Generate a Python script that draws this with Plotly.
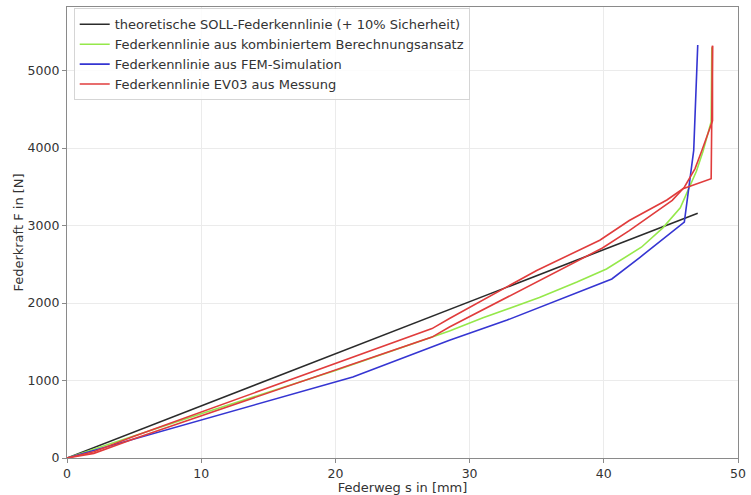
import plotly.graph_objects as go

# Black: theoretical target line
s_soll = [0, 47.0]
F_soll = [0, 3160]

# Green: combined calculation approach
s_calc = [0, 5, 10, 20, 28.5, 31.0, 35.2, 38.0, 40.2, 42.8, 44.4, 45.7, 46.9, 47.4, 48.0, 48.05]
F_calc = [0, 285, 570, 1130, 1640, 1810, 2070, 2270, 2440, 2720, 2970, 3230, 3700, 3960, 4340, 5300]

# Blue: FEM simulation
s_fem = [0, 10, 17.3, 21.3, 28.5, 32.8, 40.6, 42.7, 46.0, 46.7, 47.0]
F_fem = [0, 495, 850, 1045, 1520, 1780, 2310, 2590, 3045, 3970, 5330]

# Red: measurement EV03 (two branches)
s_mess_a = [0, 2, 5, 10, 20, 27.2, 28.5, 35.0, 39.7, 41.9, 44.7, 45.9, 48.0, 48.1]
F_mess_a = [0, 80, 280, 595, 1225, 1670, 1800, 2420, 2810, 3065, 3330, 3475, 3605, 5320]

s_mess_b = [0, 2, 5, 10, 20, 27.2, 28.5, 39.9, 41.9, 45.1, 46.0, 46.8, 47.3, 48.1, 48.1]
F_mess_b = [0, 60, 250, 545, 1135, 1560, 1690, 2710, 2935, 3325, 3495, 3735, 3965, 4350, 5320]

BLACK = "#2b2b2b"
GREEN = "#95e84a"
BLUE = "#3535d2"
RED = "#e03c3c"
LW = 1.6

fig = go.Figure()
fig.add_trace(go.Scatter(x=s_soll, y=F_soll, mode="lines", line=dict(color=BLACK, width=LW),
                         name="theoretische SOLL-Federkennlinie (+ 10% Sicherheit)"))
fig.add_trace(go.Scatter(x=s_calc, y=F_calc, mode="lines", line=dict(color=GREEN, width=LW),
                         name="Federkennlinie aus kombiniertem Berechnungsansatz"))
fig.add_trace(go.Scatter(x=s_fem, y=F_fem, mode="lines", line=dict(color=BLUE, width=LW),
                         name="Federkennlinie aus FEM-Simulation"))
fig.add_trace(go.Scatter(x=s_mess_a, y=F_mess_a, mode="lines", line=dict(color=RED, width=LW),
                         name="Federkennlinie EV03 aus Messung", legendgroup="mess"))
fig.add_trace(go.Scatter(x=s_mess_b, y=F_mess_b, mode="lines", line=dict(color=RED, width=LW),
                         name="Federkennlinie EV03 aus Messung", legendgroup="mess", showlegend=False))

FONT = "DejaVu Sans"
TXT = "#333333"
axis_common = dict(
    showline=True, linecolor="#8a8a8a", linewidth=1.3, mirror=True,
    showgrid=True, gridcolor="#ebebeb", gridwidth=1,
    ticks="outside", ticklen=4, tickcolor="#8a8a8a", tickwidth=1,
    tickfont=dict(family=FONT, size=12.5, color=TXT),
    zeroline=False, automargin=False,
)

fig.update_layout(
    width=751, height=495,
    margin=dict(l=67, r=13, t=7, b=37),
    paper_bgcolor="white", plot_bgcolor="white",
    font=dict(family=FONT, size=12.5, color=TXT),
    xaxis=dict(range=[0, 50], tickvals=[0, 10, 20, 30, 40, 50],
               title=dict(text="Federweg s in [mm]", font=dict(family=FONT, size=13, color=TXT), standoff=2),
               **axis_common),
    yaxis=dict(range=[0, 5820], tickvals=[0, 1000, 2000, 3000, 4000, 5000],
               title=dict(text="Federkraft F in [N]", font=dict(family=FONT, size=13, color=TXT), standoff=0),
               **axis_common),
    legend=dict(x=0.01, y=0.997, xanchor="left", yanchor="top",
                bgcolor="rgba(255,255,255,0.85)", bordercolor="#d5d5d5", borderwidth=1,
                font=dict(family=FONT, size=13, color=TXT),
                itemwidth=30, tracegroupgap=0),
    showlegend=True,
)

fig.write_html("out.html", config={"displayModeBar": False},
               post_script="document.body.style.margin='0';document.body.style.overflow='hidden';")
